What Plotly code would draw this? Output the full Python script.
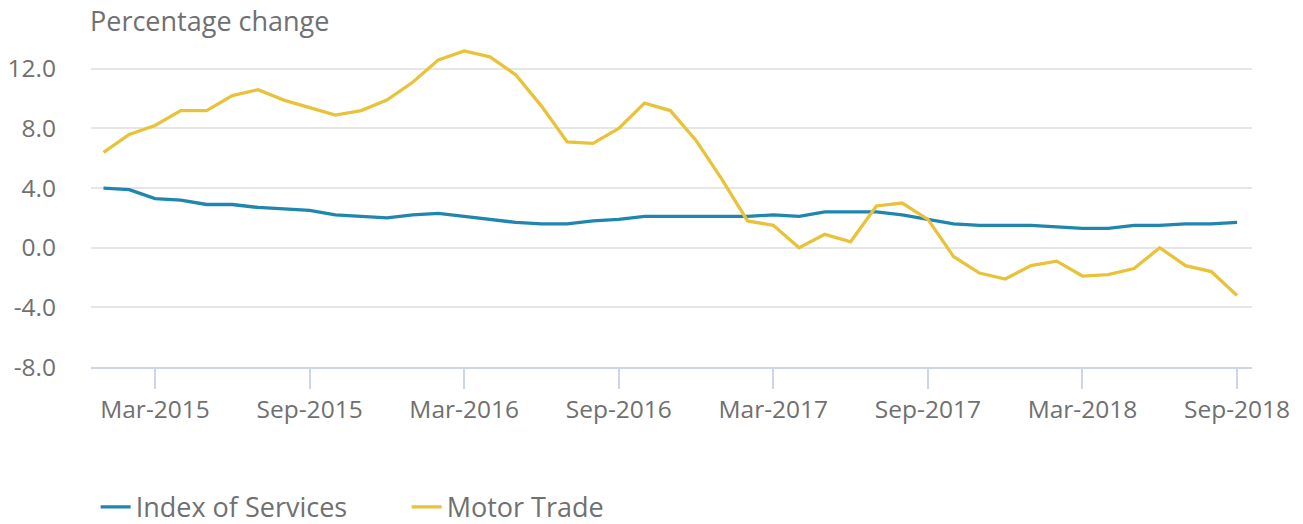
import plotly.graph_objects as go

months = []
mnames = ["Jan", "Feb", "Mar", "Apr", "May", "Jun", "Jul", "Aug", "Sep", "Oct", "Nov", "Dec"]
for yr in range(2015, 2019):
    for m in mnames:
        months.append(f"{m}-{yr}")
months = months[:45]  # Jan-2015 .. Sep-2018

index_of_services = [4.0, 3.9, 3.3, 3.2, 2.9, 2.9, 2.7, 2.6, 2.5, 2.2, 2.1, 2.0,
                     2.2, 2.3, 2.1, 1.9, 1.7, 1.6, 1.6, 1.8, 1.9, 2.1, 2.1, 2.1,
                     2.1, 2.1, 2.2, 2.1, 2.4, 2.4, 2.4, 2.2, 1.9, 1.6, 1.5, 1.5,
                     1.5, 1.4, 1.3, 1.3, 1.5, 1.5, 1.6, 1.6, 1.7]
motor_trade = [6.4, 7.6, 8.2, 9.2, 9.2, 10.2, 10.6, 9.9, 9.4, 8.9, 9.2, 9.9,
               11.1, 12.6, 13.2, 12.8, 11.6, 9.5, 7.1, 7.0, 8.0, 9.7, 9.2, 7.2,
               4.6, 1.8, 1.5, 0.0, 0.9, 0.4, 2.8, 3.0, 1.9, -0.6, -1.7, -2.1,
               -1.2, -0.9, -1.9, -1.8, -1.4, 0.0, -1.2, -1.6, -3.2]

tick_labels = ["Mar-2015", "Sep-2015", "Mar-2016", "Sep-2016", "Mar-2017",
               "Sep-2017", "Mar-2018", "Sep-2018"]
y_ticks = [-8, -4, 0, 4, 8, 12]
y_tick_text = [f"{v:.1f}" for v in y_ticks]

FONT = "Open Sans"
TXT = "#707070"

fig = go.Figure()
fig.add_trace(go.Scatter(x=months, y=index_of_services, name="Index of Services",
                         mode="lines", line=dict(color="#1f86ae", width=3.3)))
fig.add_trace(go.Scatter(x=months, y=motor_trade, name="Motor Trade",
                         mode="lines", line=dict(color="#e8c33a", width=3.3)))

fig.update_layout(
    width=1303, height=524,
    margin=dict(l=91, r=51, t=39, b=157, autoexpand=False),
    plot_bgcolor="white", paper_bgcolor="white",
    font=dict(family=FONT, size=24, color=TXT),
    showlegend=True,
    legend=dict(orientation="h", x=0.004, xanchor="left", y=-0.428, yanchor="middle",
                font=dict(family=FONT, size=27, color=TXT), itemwidth=30,
                entrywidth=266, tracegroupgap=0),
    annotations=[dict(text="Percentage change", xref="paper", yref="paper",
                      x=0, y=1 + 18 / 328, xanchor="left", yanchor="middle",
                      xshift=-3, showarrow=False,
                      font=dict(family=FONT, size=27, color=TXT))],
)
fig.update_xaxes(type="category", range=[-0.485, 44.58], automargin=False,
                 tickvals=tick_labels, ticktext=tick_labels,
                 showgrid=False, zeroline=False,
                 showline=True, linecolor="#ccd6eb", linewidth=2,
                 ticks="outside", ticklen=20, tickwidth=2, tickcolor="#ccd6eb",
                 tickfont=dict(family=FONT, size=24.5, color=TXT))
fig.update_yaxes(range=[-8, 14], automargin=False,
                 tickvals=y_ticks, ticktext=y_tick_text,
                 showgrid=True, gridcolor="#e6e6e6", gridwidth=2,
                 zeroline=False, showline=False, ticks="",
                 ticklabelstandoff=34,
                 tickfont=dict(family=FONT, size=24.5, color=TXT))

fig.write_html("out.html", config={"displayModeBar": False},
               post_script="document.body.style.margin='0';document.body.style.overflow='hidden';")
